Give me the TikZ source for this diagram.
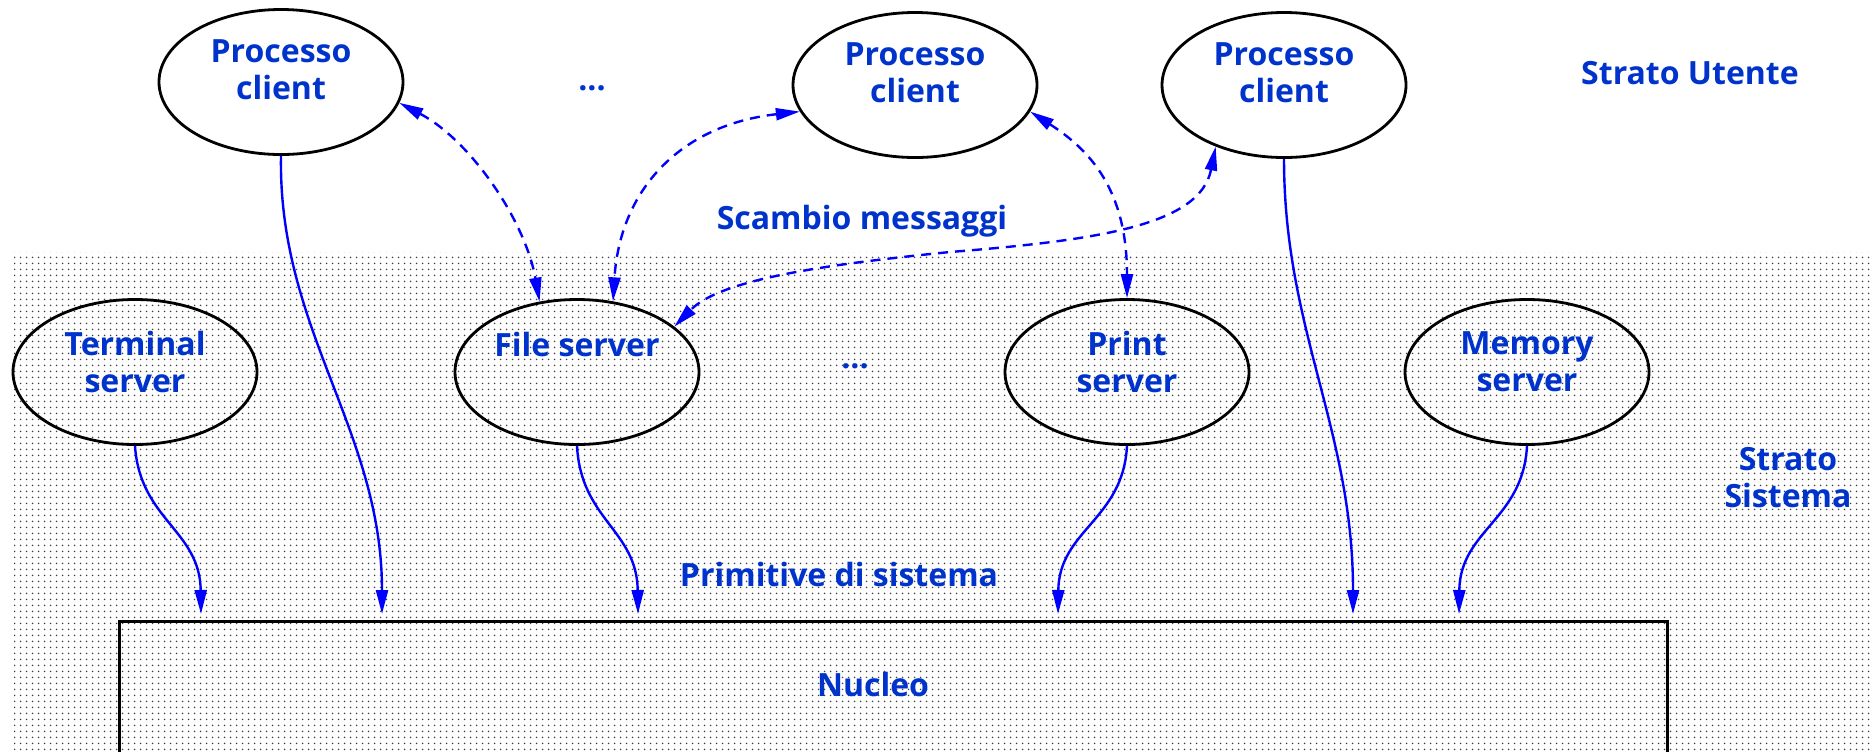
\documentclass[tikz,border=0pt]{standalone}
\usepackage{fontspec}
\setmainfont{Open Sans}
\usetikzlibrary{arrows.meta,shapes.geometric,patterns.meta}
\definecolor{txtblue}{RGB}{0,51,204}

\tikzdeclarepattern{
  name=sysdots,
  type=uncolored,
  bounding box={(0pt,0pt) and (3pt,3pt)},
  tile size={(3pt,3pt)},
  code={\fill (1.5pt,1.5pt) circle (0.5pt);}
}

\begin{document}
\begin{tikzpicture}[
      x=0.5pt, y=-0.5pt,
      proc/.style={ellipse, draw, line width=1.4pt, minimum width=122pt,
        minimum height=72.5pt, inner sep=0pt},
      lbl/.style={text=txtblue, font=\bfseries\fontsize{16}{18.5}\selectfont,
        align=center, inner sep=0pt},
      call/.style={blue, line width=1.2pt, -{Triangle[length=12pt,width=6pt]}},
      msg/.style={blue, line width=1.2pt, dash pattern=on 5pt off 3.5pt,
        {Triangle[length=12pt,width=6pt]}-{Triangle[length=12pt,width=6pt]}}
    ]
    \useasboundingbox (0,0) rectangle (1872,751);
    \fill[pattern=sysdots, pattern color=black!75] (14,252) rectangle (1872,751);

    \node (c1) [proc] at (281,82) {};
    \node (c2) [proc] at (915,85) {};
    \node (c3) [proc] at (1284,85) {};
    \node (ts) [proc] at (135,372) {};
    \node (fs) [proc] at (577,372) {};
    \node (ps) [proc] at (1127,372) {};
    \node (ms) [proc] at (1527,372) {};
    \node (nuc) [draw, line width=1.4pt, anchor=north west, minimum width=774pt,
      minimum height=80pt, inner sep=0pt] at (118,620) {};

    \node (c1t) [lbl] at ([yshift=6pt]c1) {Processo\\client};
    \node (c2t) [lbl] at ([yshift=6pt]c2) {Processo\\client};
    \node (c3t) [lbl] at ([yshift=6pt]c3) {Processo\\client};
    \node (tst) [lbl] at ([yshift=5pt]ts) {Terminal\\server};
    \node (fst) [lbl] at (577,344) {File server};
    \node (pst) [lbl] at ([yshift=5pt]ps) {Print\\server};
    \node (mst) [lbl] at ([yshift=5pt]ms) {Memory\\server};
    \node (nuct) [lbl] at (873,684) {Nucleo};
    \node (dots1) [lbl] at (592,88) {...};
    \node (dots2) [lbl] at (855,366) {...};
    \node (utente) [lbl] at (1690,73) {Strato Utente};
    \node (sistema) [lbl] at (1788,478) {Strato\\Sistema};
    \node (scambio) [lbl] at (862,221) {Scambio messaggi};
    \node (primit) [lbl] at (839,574) {Primitive di sistema};

    \draw[call] (c1.south) .. controls (278,330) and (382,430) .. ([shift={(264,-6)}]nuc.north west);
    \draw[call] (c3.south) .. controls (1284,330) and (1353,430) .. ([shift={(1235,-6)}]nuc.north west);
    \draw[call] (ts.south) .. controls (140,520) and (200,530) .. ([shift={(83,-6)}]nuc.north west);
    \draw[call] (fs.south) .. controls (581,520) and (637,530) .. ([shift={(520,-6)}]nuc.north west);
    \draw[call] (ps.south) .. controls (1123,520) and (1059,530) .. ([shift={(940,-6)}]nuc.north west);
    \draw[call] (ms.south) .. controls (1523,520) and (1460,530) .. ([shift={(1341,-6)}]nuc.north west);

    \draw[msg] (c1.-10) .. controls (470,140) and (525,220) .. (fs.118);
    \draw[msg] (c2.193) .. controls (680,125) and (620,190) .. (fs.63);
    \draw[msg] (c3.222) .. controls (1200,225) and (1100,240) .. (950,252)
      .. controls (820,265) and (720,280) .. (fs.25);
    \draw[msg] (c2.-13) .. controls (1090,150) and (1127,190) .. (ps.north);
  \end{tikzpicture}
\end{document}
